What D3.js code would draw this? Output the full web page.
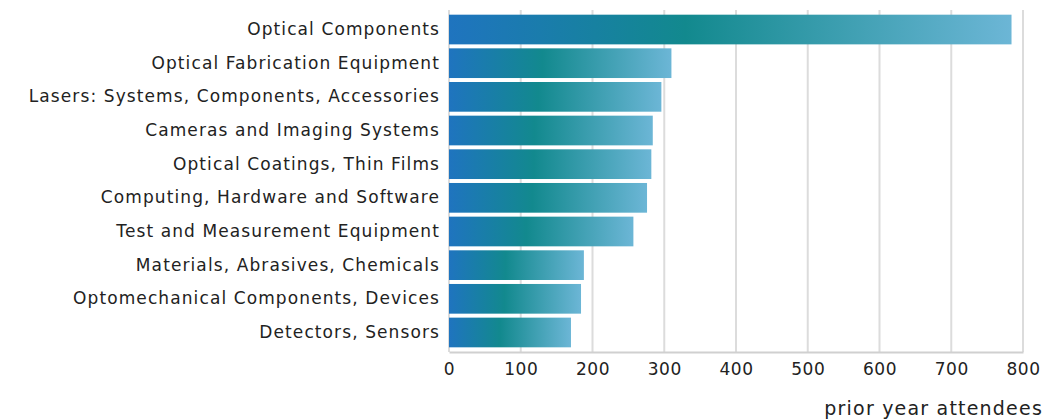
<!DOCTYPE html>
<html>
<head>
<meta charset="utf-8">
<script src="https://cdn.jsdelivr.net/npm/d3@7"></script>
<style>
  body { margin: 0; background: #fff; }
  text { font-family: "DejaVu Sans", sans-serif; fill: #222; }
</style>
</head>
<body>
<div id="chart"></div>
<script>
// categories and values
var categories = [
  "Optical Components",
  "Optical Fabrication Equipment",
  "Lasers: Systems, Components, Accessories",
  "Cameras and Imaging Systems",
  "Optical Coatings, Thin Films",
  "Computing, Hardware and Software",
  "Test and Measurement Equipment",
  "Materials, Abrasives, Chemicals",
  "Optomechanical Components, Devices",
  "Detectors, Sensors"
];
var attendees = [784, 310, 296, 284, 282, 276, 257, 188, 184, 170];
var xTicks = [0, 100, 200, 300, 400, 500, 600, 700, 800];
var axisTitle = "prior year attendees";

var data = categories.map(function(c, i) { return {name: c, value: attendees[i]}; });

var margin = {top: 10, right: 38, bottom: 67, left: 449},
    width = 1061 - margin.left - margin.right,
    height = 419 - margin.top - margin.bottom;

var svg = d3.select("#chart").append("svg")
  .attr("width", 1061)
  .attr("height", 419);

// gradient used by every bar (stretches with the bar)
var grad = svg.append("defs").append("linearGradient")
  .attr("id", "barGrad")
  .attr("x1", "0%").attr("x2", "100%")
  .attr("y1", "0%").attr("y2", "0%");
grad.append("stop").attr("offset", "0%").attr("stop-color", "#1f74bf");
grad.append("stop").attr("offset", "42%").attr("stop-color", "#12898e");
grad.append("stop").attr("offset", "100%").attr("stop-color", "#6cb6d6");

var chartGroup = svg.append("g")
  .attr("transform", `translate(${margin.left}, ${margin.top})`);

var x = d3.scaleLinear().domain([0, 800]).range([0, width]);
var y = d3.scaleBand()
  .domain(categories)
  .range([0, height])
  .paddingInner(0.118)
  .paddingOuter(0.139);

// gridlines
chartGroup.append("g")
  .selectAll("line")
  .data(xTicks)
  .join("line")
  .attr("x1", d => x(d)).attr("x2", d => x(d))
  .attr("y1", 0).attr("y2", height)
  .attr("stroke", "#dcdcdc")
  .attr("stroke-width", 2);

// bars
chartGroup.append("g")
  .selectAll("rect")
  .data(data)
  .join("rect")
  .attr("x", x(0))
  .attr("y", d => y(d.name))
  .attr("width", d => x(d.value) - x(0))
  .attr("height", y.bandwidth())
  .attr("fill", "url(#barGrad)");

// x axis
var bottomAxis = d3.axisBottom(x).tickValues(xTicks).tickSize(0).tickPadding(11);
var xg = chartGroup.append("g")
  .attr("transform", `translate(0, ${height})`)
  .call(bottomAxis);
xg.select(".domain").attr("stroke", "#d0d0d0").attr("stroke-width", 2);
xg.selectAll("text")
  .style("font-size", "17px")
  .style("letter-spacing", "0.6px")
  .attr("fill", "#222");

// y axis labels
var leftAxis = d3.axisLeft(y).tickSize(0).tickPadding(9);
var yg = chartGroup.append("g").call(leftAxis);
yg.select(".domain").remove();
yg.selectAll("text")
  .style("font-size", "17px")
  .style("letter-spacing", "1.1px")
  .attr("fill", "#222");

// axis title
chartGroup.append("text")
  .attr("x", 1043 - margin.left)
  .attr("y", 415 - margin.top)
  .attr("text-anchor", "end")
  .style("font-size", "19px")
  .style("letter-spacing", "1.2px")
  .text(axisTitle);
</script>
</body>
</html>
